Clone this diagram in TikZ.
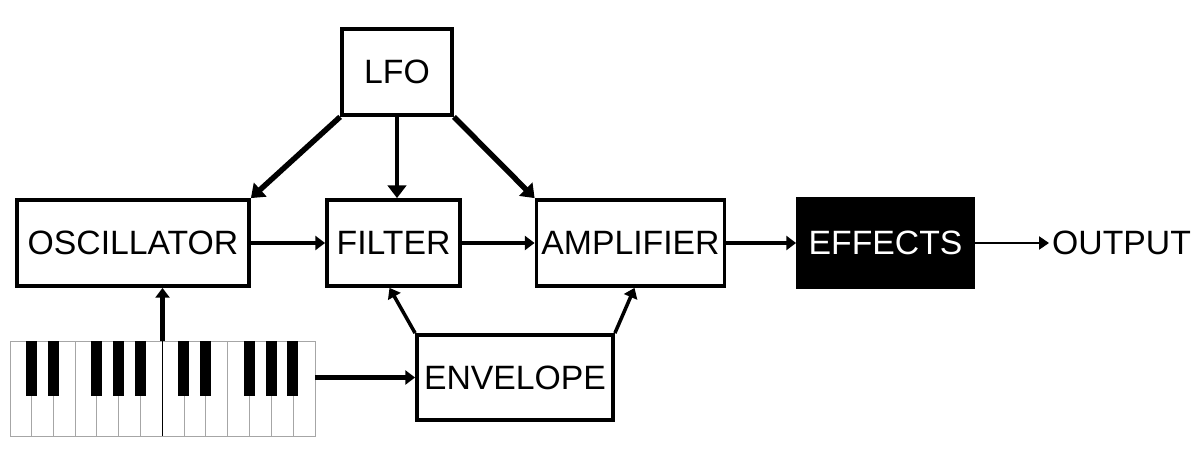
\documentclass[tikz,border=0pt]{standalone}
\usepackage{fontspec}
\setmainfont{Liberation Sans}
\usepackage{tikz}
\usetikzlibrary{shapes.geometric, arrows.meta, positioning}

\tikzset{
  block/.style={draw, line width=2.7pt, inner sep=0pt, minimum height=2.15cm,
    font=\fontsize{24}{28}\selectfont},
  link/.style={line width=2.9pt, -{Triangle[length=7pt,width=10pt]}},
  modlink/.style={line width=3.9pt, -{Triangle[length=9pt,width=13pt]}},
}

\begin{document}
\begin{tikzpicture}
\useasboundingbox (0,0) rectangle (30,11.25);

\node[block, minimum width=2.75cm] (lfo) at (9.925,9.45) {LFO};
\node[block, minimum width=5.8cm] (osc) at (3.325,5.175) {OSCILLATOR};
\node[block, minimum width=3.325cm] (filter) at (9.8375,5.175) {FILTER};
\node[block, minimum width=4.7cm] (amp) at (15.7625,5.175) {AMPLIFIER};
\node[block, fill=black, text=white, minimum width=4.375cm, minimum height=2.2cm] (fx) at (22.1375,5.175) {EFFECTS};
\node[font=\fontsize{24}{28}\selectfont, inner sep=2pt] (out) at (28.0375,5.175) {OUTPUT};
\node[block, minimum width=4.9cm, minimum height=2.125cm] (env) at (12.875,1.8125) {ENVELOPE};
\node[draw=gray!70, line width=0.5pt, minimum width=7.625cm, minimum height=2.3625cm, inner sep=0pt] (keys) at (4.0625,1.53125) {};

% keyboard
\begin{scope}[shift={(keys.north west)}]
\foreach \i in {1,...,13} {
    \draw[gray!70, line width=0.5pt] (\i*0.544643,0) -- (\i*0.544643,-2.3625);
}
\draw[black, line width=0.6pt] (7*0.544643,0) -- (7*0.544643,-2.3625);
\foreach \i in {1,2,4,5,6,8,9,11,12,13} {
    \fill[black] (\i*0.544643-0.1375,0) rectangle (\i*0.544643+0.1375,-1.375);
}
\end{scope}

% modulation
\draw[modlink] (lfo.south west) -- (osc.north east);
\draw[modlink, line width=3.2pt] (lfo.south) -- (lfo.south |- filter.north);
\draw[modlink] (lfo.south east) -- (amp.north west);

% signal path
\draw[link] (osc.east) -- (filter.west);
\draw[link] (filter.east) -- (amp.west);
\draw[link] (amp.east) -- (fx.west);
\draw[line width=2pt, -{Triangle[length=7pt,width=9pt]}] (fx.east) -- (out.west);

% keyboard and envelope
\draw[link] (keys.north) -- (keys.north |- osc.south);
\draw[link] (keys.east |- env.west) -- (env.west);
\draw[link, line width=2.5pt] (env.north west) -- ([xshift=-0.1cm]filter.south);
\draw[link, line width=2.5pt] (env.north east) -- ([xshift=0.1cm]amp.south);
\end{tikzpicture}
\end{document}
